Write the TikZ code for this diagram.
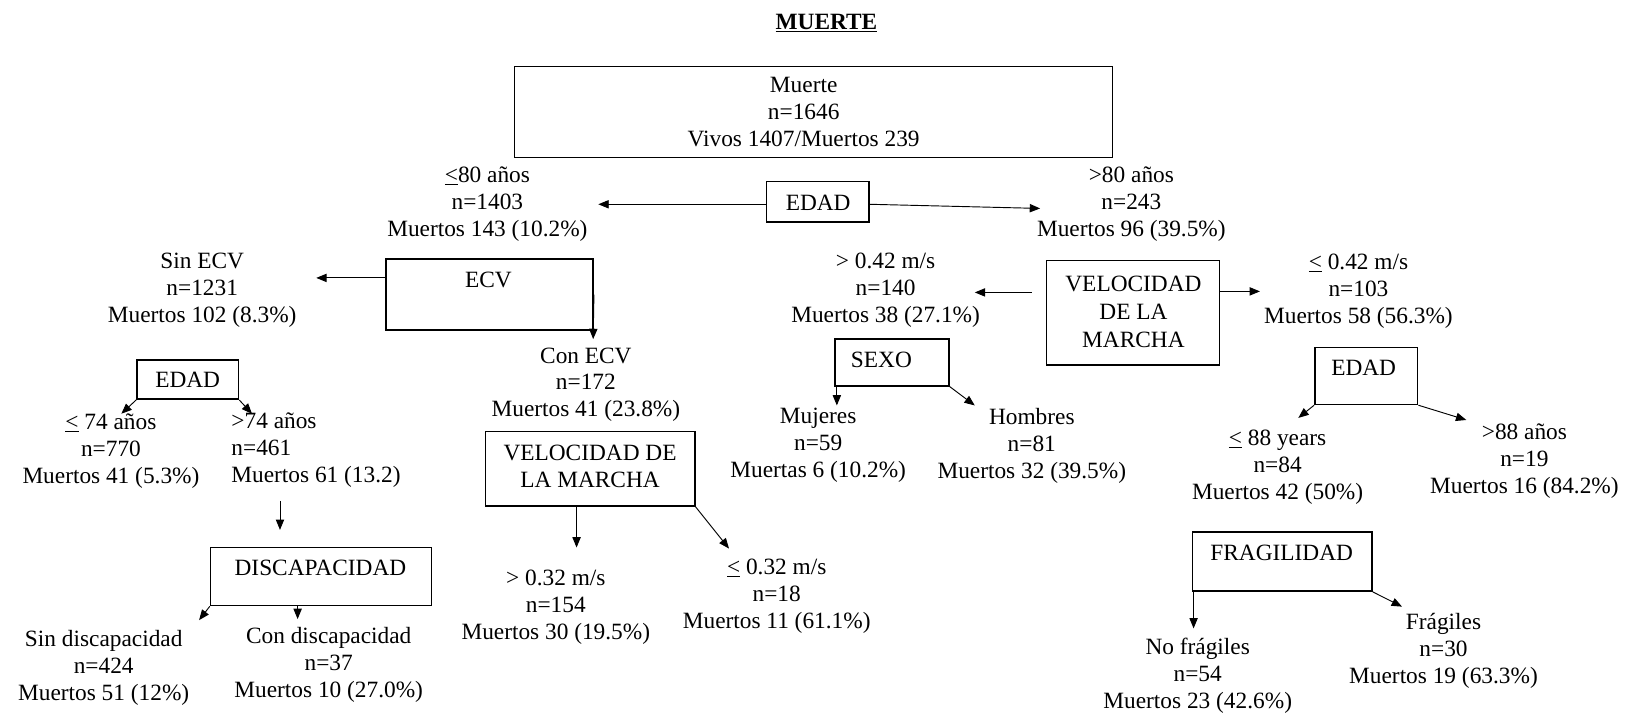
\documentclass[tikz,border=0pt]{standalone}
\usepackage{fontspec}
\setmainfont{Liberation Serif}
\usetikzlibrary{arrows.meta,calc}
\newcommand\leqbar{\underline{<}}
\begin{document}
\begin{tikzpicture}[x=1pt,y=-1pt,
  txt/.style={font=\fontsize{22.5}{26}\selectfont, align=center, inner sep=0pt},
  kbox/.style={draw, line width=1.5pt, inner sep=0pt},
  arr/.style={line width=0.9pt, -{Triangle[length=10pt,width=8pt]}},
]
\useasboundingbox (0,0) rectangle (1568,687);

% title
\node[txt, font=\fontsize{22.5}{26}\selectfont\bfseries] (title) at (797,22) {\underline{MUERTE}};

% split boxes
\node[kbox, minimum width=577, minimum height=88] (root) at (784.5,108) {};
\node[kbox, minimum width=99,  minimum height=39] (edad1) at (788.5,194.5) {};
\node[kbox, minimum width=200, minimum height=68] (ecv) at (472,284) {};
\node[kbox, minimum width=98,  minimum height=38] (edad2) at (181,366) {};
\node[kbox, minimum width=213, minimum height=56] (disc) at (309.5,556) {};
\node[kbox, minimum width=202, minimum height=72] (vel1) at (569,452) {};
\node[kbox, minimum width=110, minimum height=45] (sexo) at (860,349.5) {};
\node[kbox, minimum width=167, minimum height=101] (vel2) at (1092.5,301.5) {};
\node[kbox, minimum width=99,  minimum height=55] (edad3) at (1317.5,362.5) {};
\node[kbox, minimum width=173, minimum height=57] (frag) at (1236.5,541.5) {};

% box captions
\node[txt] (rootT) at (775,108) {Muerte\\n=1646\\Vivos 1407/Muertos 239};
\node[txt] (edad1T) at (789,196) {EDAD};
\node[txt] (ecvT) at (471,270) {ECV};
\node[txt] (edad2T) at (181,366) {EDAD};
\node[txt] (discT) at (309,548) {DISCAPACIDAD};
\node[txt] (vel1T) at (569,450) {VELOCIDAD DE\\LA MARCHA};
\node[txt] (sexoT) at (850,347) {SEXO};
\node[txt] (vel2T) at (1093,301) {VELOCIDAD\\[1pt]DE LA\\[1pt]MARCHA};
\node[txt] (edad3T) at (1315,355) {EDAD};
\node[txt] (fragT) at (1236,533) {FRAGILIDAD};

% group counts
\node[txt] (le80) at (470,197) {\leqbar80 años\\n=1403\\Muertos 143 (10.2\%)};
\node[txt] (gt80) at (1091,197) {>80 años\\n=243\\Muertos 96 (39.5\%)};
\node[txt] (sinecv) at (195,280) {Sin ECV\\n=1231\\Muertos 102 (8.3\%)};
\node[txt] (conecv) at (565,371) {Con ECV\\n=172\\Muertos 41 (23.8\%)};
\node[txt] (le74) at (107,435) {\leqbar{} 74 años\\n=770\\Muertos 41 (5.3\%)};
\node[txt, align=left, anchor=west] (gt74) at (223,434) {>74 años\\n=461\\Muertos 61 (13.2)};
\node[txt] (sindis) at (100,644) {Sin discapacidad\\n=424\\Muertos 51 (12\%)};
\node[txt] (condis) at (317,641) {Con discapacidad\\n=37\\Muertos 10 (27.0\%)};
\node[txt] (gt032) at (536,586) {> 0.32 m/s\\n=154\\Muertos 30 (19.5\%)};
\node[txt] (le032) at (749,575) {\leqbar{} 0.32 m/s\\n=18\\Muertos 11 (61.1\%)};
\node[txt] (gt042) at (854,280) {> 0.42 m/s\\n=140\\Muertos 38 (27.1\%)};
\node[txt] (le042) at (1310,281) {\leqbar{} 0.42 m/s\\n=103\\Muertos 58 (56.3\%)};
\node[txt] (muj) at (789,429) {Mujeres\\n=59\\Muertas 6 (10.2\%)};
\node[txt] (hom) at (995,430) {Hombres\\n=81\\Muertos 32 (39.5\%)};
\node[txt] (le88) at (1232,451) {\leqbar{} 88 years\\n=84\\Muertos 42 (50\%)};
\node[txt] (gt88) at (1470,445) {>88 años\\n=19\\Muertos 16 (84.2\%)};
\node[txt] (nofrag) at (1155,652) {No frágiles\\n=54\\Muertos 23 (42.6\%)};
\node[txt] (sifrag) at (1392,628) {Frágiles\\n=30\\Muertos 19 (63.3\%)};

% arrow ends
\coordinate (e1) at (577,197);
\coordinate (e2) at (1003,201);
\coordinate (e3) at (305,268);
\coordinate (e4) at (572,327);
\coordinate (e5) at (117,399);
\coordinate (e6) at (243,399);
\coordinate (s7) at (270,483);
\coordinate (e7) at (270,511);
\coordinate (e8) at (192,598);
\coordinate (e9) at (287,597);
\coordinate (e10) at (556,528);
\coordinate (e11) at (703,529);
\coordinate (s12) at (995,282);
\coordinate (e12) at (940,282);
\coordinate (e13) at (1215,281);
\coordinate (e14) at (807,391);
\coordinate (e15) at (940,391);
\coordinate (e16) at (1252,403);
\coordinate (e17) at (1414,405);
\coordinate (e18) at (1151,606);
\coordinate (e19) at (1352,585);

% connectors
\draw[arr] (edad1.west |- e1) -- (e1);
\draw[arr] (edad1.east |- e1) -- (e2);
\draw[arr] (ecv.west |- e3) -- (e3);
\draw[arr] (ecv.east) -- (e4);
\draw[arr] (edad2.south west) -- (e5);
\draw[arr] (edad2.south east) -- (e6);
\draw[arr] (s7) -- (e7);
\draw[arr] (disc.south west) -- (e8);
\draw[arr] (disc.south -| e9) -- (e9);
\draw[arr] (vel1.south -| e10) -- (e10);
\draw[arr] (vel1.south east) -- (e11);
\draw[arr] (s12) -- (e12);
\draw[arr] (vel2.east |- e13) -- (e13);
\draw[arr] (sexo.south -| e14) -- (e14);
\draw[arr] (sexo.south east) -- (e15);
\draw[arr] (edad3.south west) -- (e16);
\draw[arr] (edad3.south east) -- (e17);
\draw[arr] (frag.south -| e18) -- (e18);
\draw[arr] (frag.south east) -- (e19);
\end{tikzpicture}
\end{document}
